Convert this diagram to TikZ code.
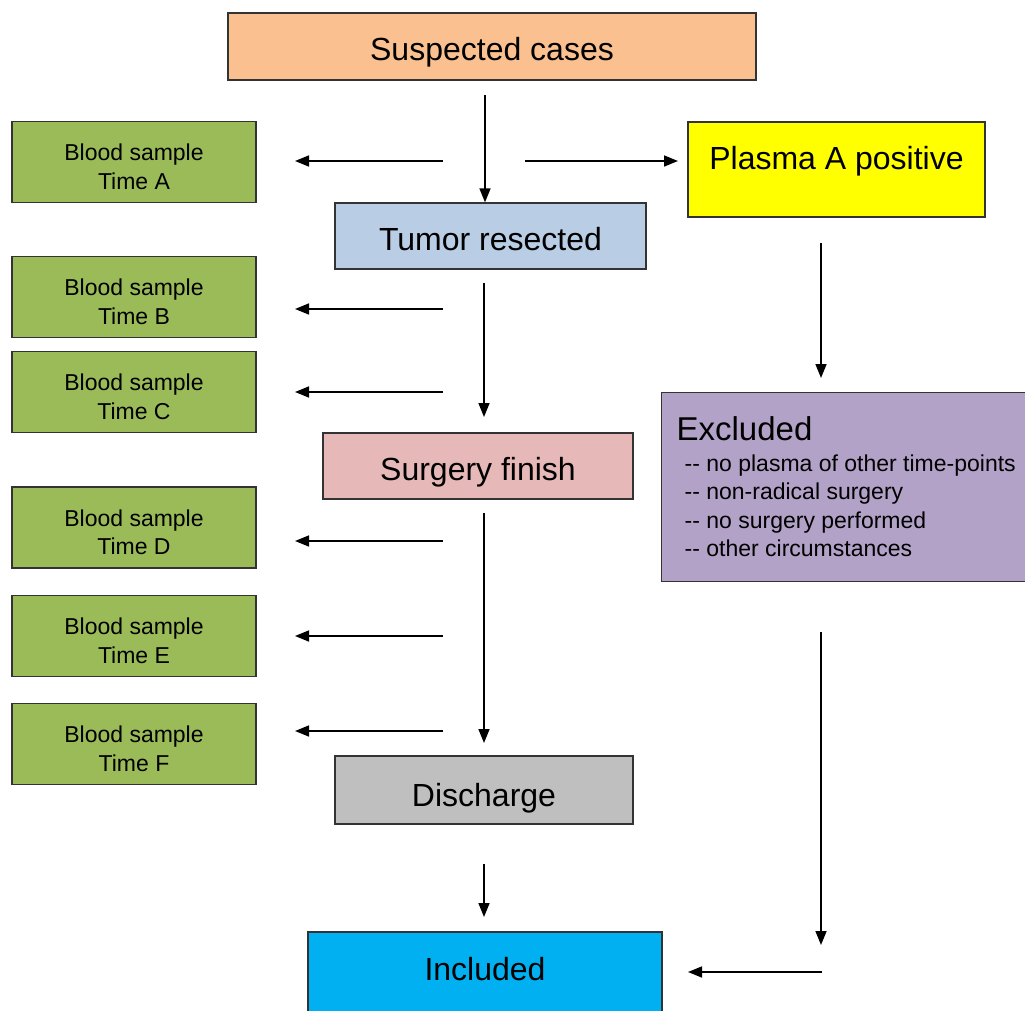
\documentclass[tikz,border=0pt]{standalone}
\usepackage{fontspec}
\setmainfont{Liberation Sans}
\usetikzlibrary{arrows.meta}
\definecolor{susfill}{HTML}{FAC090}
\definecolor{tumfill}{HTML}{B9CDE5}
\definecolor{surfill}{HTML}{E6B9B8}
\definecolor{disfill}{HTML}{BFBFBF}
\definecolor{incfill}{HTML}{00B0F0}
\definecolor{plafill}{HTML}{FFFF00}
\definecolor{excfill}{HTML}{B3A2C7}
\definecolor{smpfill}{HTML}{9BBB59}
\begin{document}
\begin{tikzpicture}
		[x=1pt,y=-1pt,
			mybox/.style={draw=black!80,line width=1.3pt,minimum height=67pt,inner sep=0pt,
				font=\fontsize{32}{38}\selectfont,text height=29pt,text depth=0pt},
			sample/.style={draw=black!80,line width=1.3pt,fill=smpfill,minimum width=244pt,
				minimum height=81pt,align=center,font=\fontsize{23}{28.3}\selectfont},
			myarrow/.style={-{Triangle[length=14pt,width=11pt]},line width=1.6pt}]
	\clip (0,0) rectangle (1025,1011);
	% main column
	\node[mybox,fill=susfill,minimum width=528pt] (sus) at (492,46.5) {Suspected cases};
	\node[mybox,fill=tumfill,minimum width=311pt,minimum height=66pt] (tum) at (490.5,236) {Tumor resected};
	\node[mybox,fill=surfill,minimum width=310pt,minimum height=66pt] (sur) at (478,466) {Surgery finish};
	\node[mybox,fill=disfill,minimum width=298pt,minimum height=68pt,text height=32pt] (dis) at (484,790) {Discharge};
	\node[mybox,fill=incfill,minimum width=354pt,minimum height=90pt,
		text height=24pt,text depth=18pt] (inc) at (485,977) {Included};
	% right column
	\node[mybox,fill=plafill,minimum width=297pt,minimum height=95pt,
		text height=24pt,text depth=23pt] (pla) at (836.5,169.5) {Plasma A positive};
	\node[draw=black!80,line width=1.3pt,fill=excfill,anchor=north west,
		minimum height=189pt,inner xsep=15pt,inner ysep=0pt,align=left,
		font=\fontsize{23}{28.3}\selectfont] (exc) at (661,392)
		{{\fontsize{33}{33}\selectfont Excluded}\\[2.7pt]
		\hspace*{8pt}-{}- no plasma of other time-points\\
		\hspace*{8pt}-{}- non-radical surgery\\
		\hspace*{8pt}-{}- no surgery performed\\
		\hspace*{8pt}-{}- other circumstances\rule[-1pt]{0pt}{1pt}};
	% blood samples
	\foreach \t/\yb in {A/162,B/297,C/392,D/527.5,E/636,F/744}
	{
		\node[sample] (s\t) at (134,\yb) {\rule{0pt}{26.5pt}Blood sample\\Time \t};
	}
	\foreach \t/\ya in {A/161,B/309,C/392,D/541,E/636,F/731}
	{
		\coordinate (a\t) at (443,\ya);
		\coordinate (b\t) at (295,\ya);
		\draw[myarrow] (a\t) -- (b\t);
	}
	% arrows
	\coordinate (d1) at (485,95);
	\coordinate (d2) at (484,283);
	\coordinate (d3) at (484,417);
	\coordinate (d4) at (484,513);
	\coordinate (d5) at (484,743);
	\coordinate (d6) at (484,864);
	\coordinate (d7) at (484,917);
	\coordinate (r1) at (525,161);
	\coordinate (r2) at (678,161);
	\coordinate (e1) at (821,243);
	\coordinate (e2) at (821,378);
	\coordinate (e3) at (821,632);
	\coordinate (e4) at (821,945);
	\coordinate (e5) at (822,972);
	\coordinate (e6) at (688,972);
	\draw[myarrow] (d1) -- (d1 |- tum.north);
	\draw[myarrow] (d2) -- (d3);
	\draw[myarrow] (d4) -- (d5);
	\draw[myarrow] (d6) -- (d7);
	\draw[myarrow] (r1) -- (r2);
	\draw[myarrow] (e1) -- (e2);
	\draw[myarrow] (e3) -- (e4);
	\draw[myarrow] (e5) -- (e6);
\end{tikzpicture}
\end{document}
